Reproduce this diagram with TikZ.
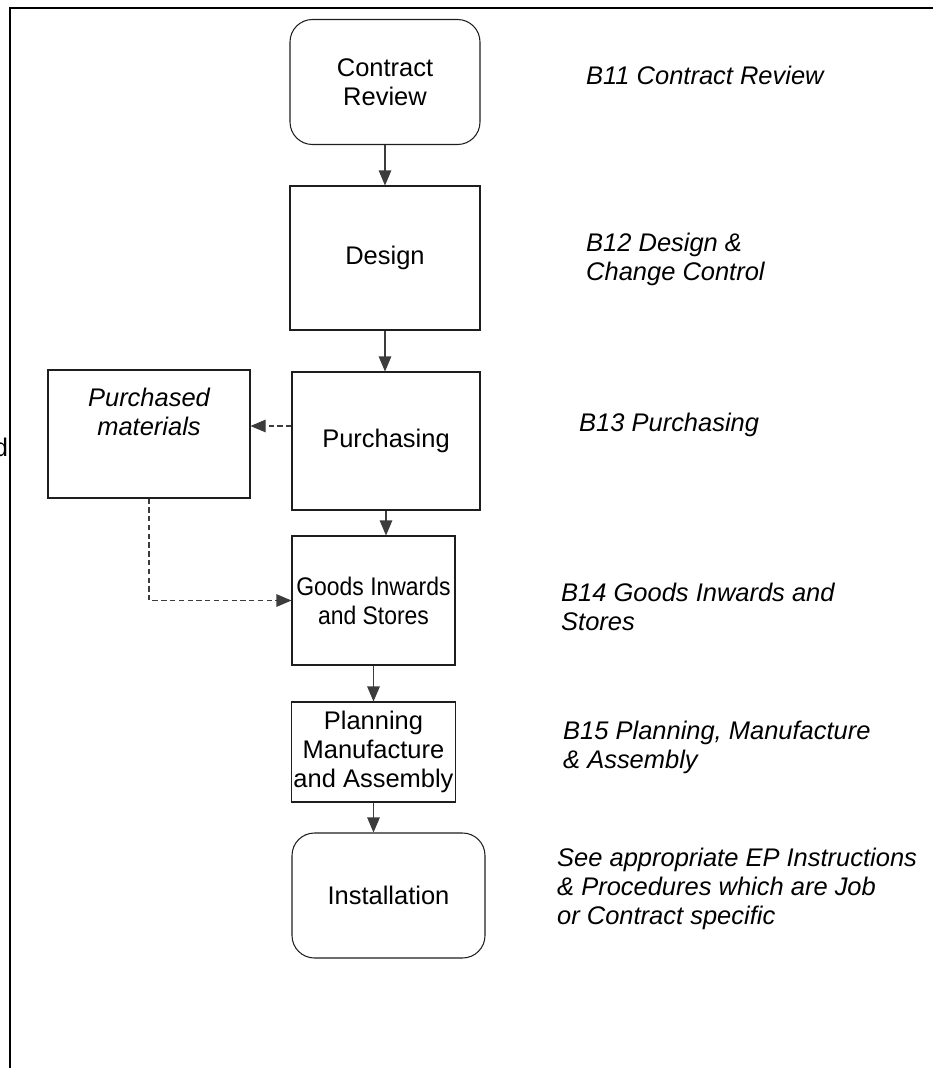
\documentclass[tikz,border=0pt]{standalone}
\usepackage{fontspec}
\setmainfont{Liberation Sans}
\usepackage{xcolor}
\usepackage{tikz}
\usetikzlibrary{arrows.meta,positioning,calc}
\definecolor{ink}{RGB}{30,30,30}
\definecolor{tipgrey}{RGB}{60,60,60}
\newcommand{\bigtxt}{\fontsize{14.5}{16.5}\selectfont}
\newcommand{\midtxt}{\fontsize{14.5}{16.5}\selectfont\addfontfeatures{FakeStretch=0.9}}

\begin{document}
\begin{tikzpicture}[font=\bigtxt]
\tikzset{stage/.style={draw=ink,line width=0.6pt,align=center},
  roundstage/.style={stage,rounded corners=0.45cm},
  flow/.style={-{Triangle[length=3mm,width=2.5mm]},draw=ink,line width=0.6pt,color=tipgrey},
  dflow/.style={flow,dashed,dash pattern=on 3pt off 2pt},
  note/.style={anchor=west,align=left,font=\bigtxt\itshape}}
\useasboundingbox (0,0) rectangle (18.66,-21.36);
\draw[line width=1.1pt] (18.66,-0.16) -| (0.2,-21.36);
\node[anchor=east,inner sep=0pt] (cut) at (0.17,-8.95) {d};
% main column
\node[roundstage,minimum width=3.8cm,minimum height=2.5cm] (cr) at (7.7,-1.64) {Contract\\Review};
\node[stage,minimum width=3.8cm,minimum height=2.88cm] (design) at (7.7,-5.16) {Design};
\node[stage,minimum width=3.76cm,minimum height=2.76cm] (purch) at (7.72,-8.82) {Purchasing};
\node[stage,inner xsep=0pt,font=\midtxt,minimum width=3.26cm,minimum height=2.58cm] (goods) at (7.47,-12.01) {Goods Inwards\\and Stores};
\node[stage,inner xsep=1pt,minimum width=3.26cm,minimum height=2.0cm] (plan) at (7.47,-15.04) {Planning\\Manufacture\\and Assembly};
\node[roundstage,minimum width=3.86cm,minimum height=2.5cm] (inst) at (7.77,-17.91) {Installation};
% side box
\node[stage,minimum width=4.04cm,minimum height=2.56cm] (pmat) at (2.98,-8.68) {};
\node[font=\bigtxt\itshape,align=center] (pmattxt) at (2.98,-8.24) {Purchased\\materials};
\draw[flow] (cr) -- (design);
\draw[flow] (design.south) -- (design.south |- purch.north);
\draw[flow] (purch.south) -- (purch.south |- goods.north);
\draw[flow] (goods) -- (plan);
\draw[flow] (plan.south) -- (plan.south |- inst.north);
\draw[dflow] ([yshift=0.3cm]purch.west) -- ([yshift=0.3cm]purch.west -| pmat.east);
\draw[dflow] (pmat.south) |- (goods.west);
% procedure references
\node[note] (b11) at (11.6,-1.5) {B11 Contract Review};
\node[note] (b12) at (11.6,-5.18) {B12 Design \&\\Change Control};
\node[note] (b13) at (11.46,-8.5) {B13 Purchasing};
\node[note] (b14) at (11.1,-12.14) {B14 Goods Inwards and\\Stores};
\node[note] (b15) at (11.14,-14.94) {B15 Planning, Manufacture\\\& Assembly};
\node[note] (ep) at (11.02,-17.78) {See appropriate EP Instructions\\\& Procedures which are Job\\or Contract specific};
\end{tikzpicture}
\end{document}
